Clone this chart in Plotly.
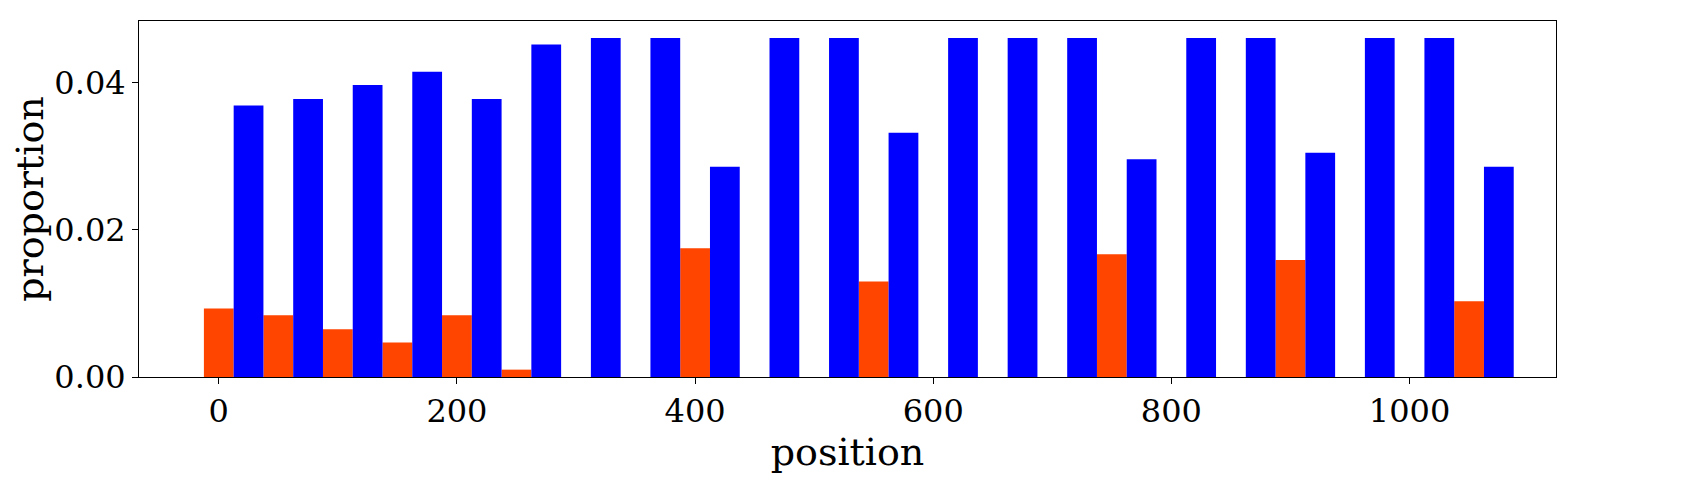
import plotly.graph_objects as go

# -------------------------------------------------------
# Data
# -------------------------------------------------------
positions = [i * 50 for i in range(22)]

orange_vals = [0.0093, 0.0084, 0.0065, 0.0047, 0.0084, 0.0010, 0.0, 0.0,
               0.0175, 0.0, 0.0, 0.0130, 0.0, 0.0, 0.0, 0.0167, 0.0, 0.0,
               0.0159, 0.0, 0.0, 0.0103]

blue_vals = [0.0369, 0.0378, 0.0397, 0.0415, 0.0378, 0.0452, 0.0461, 0.0461,
             0.0286, 0.0461, 0.0461, 0.0332, 0.0461, 0.0461, 0.0461, 0.0296,
             0.0461, 0.0461, 0.0305, 0.0461, 0.0461, 0.0286]

bar_width = 25

fig = go.Figure()
fig.add_trace(go.Bar(
    x=positions, y=orange_vals, width=bar_width,
    marker=dict(color="#FF4500", line=dict(width=0)),
))
fig.add_trace(go.Bar(
    x=[p + bar_width for p in positions], y=blue_vals, width=bar_width,
    marker=dict(color="#0000FF", line=dict(width=0)),
))

fig.update_layout(
    width=1694, height=497,
    showlegend=False,
    barmode="overlay",
    plot_bgcolor="white",
    paper_bgcolor="white",
    font=dict(family="DejaVu Serif", size=32, color="black"),
    margin=dict(l=120, r=146, t=12, b=128),
)
fig.update_xaxes(
    range=[-67, 1123],
    tickvals=[0, 200, 400, 600, 800, 1000],
    title_text="position", title_standoff=8,
    showgrid=False, zeroline=False,
    showline=True, linecolor="black", mirror=True,
    ticks="outside", ticklen=6, tickcolor="black",
)
fig.update_yaxes(
    range=[0, 0.0484],
    tickvals=[0, 0.02, 0.04], ticktext=["0.00", "0.02", "0.04"],
    title_text="proportion", title_standoff=8,
    showgrid=False, zeroline=False,
    showline=True, linecolor="black", mirror=True,
    ticks="outside", ticklen=6, tickcolor="black",
)

fig.write_html("out.html")
